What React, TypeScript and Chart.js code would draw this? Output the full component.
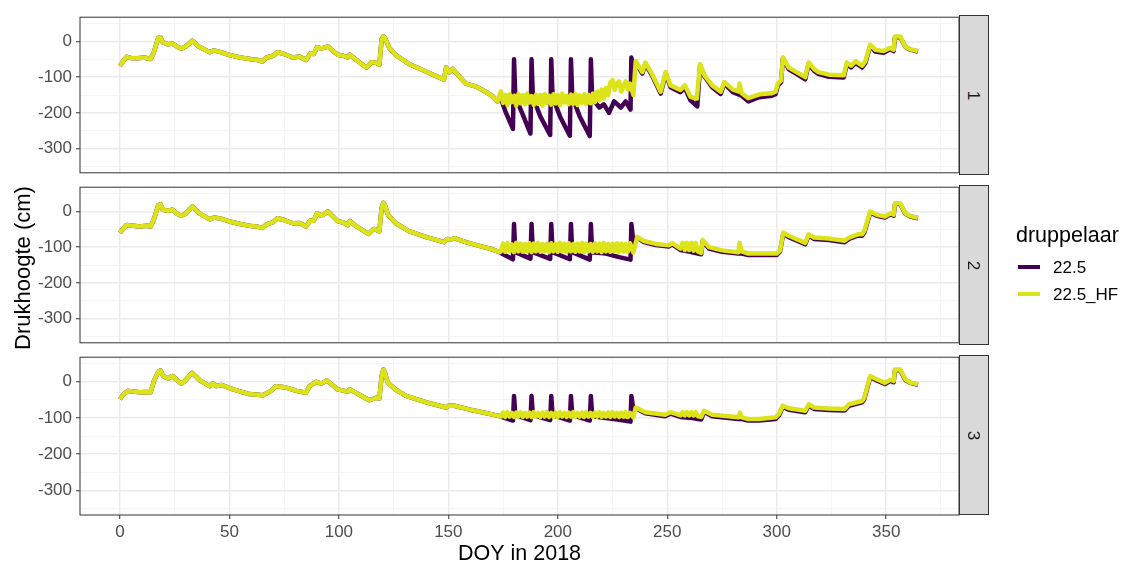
import React, { useEffect, useRef } from 'react';
import { Chart, registerables } from 'chart.js';

Chart.register(...registerables);

const FONT = '"Liberation Sans", Arial, Helvetica, sans-serif';
const PURPLE = '#440154';
const YELLOW = '#DCE319';

const seriesNames = ['22.5', '22.5_HF'];
const legendTitle = 'druppelaar';
const xTitle = 'DOY in 2018';
const yTitle = 'Drukhoogte (cm)';
const panelLabels = ['1', '2', '3'];

const xGridValues = [0, 25, 50, 75, 100, 125, 150, 175, 200, 225, 250, 275, 300, 325, 350, 375];
const xMajorTicks = [0, 50, 100, 150, 200, 250, 300, 350];
const yGridValues = [50, 0, -50, -100, -150, -200, -250, -300, -350];
const yMajorTicks = [0, -100, -200, -300];

// ---------- panel 1 ----------
const p1LeadDoy = [0, 1.5, 3, 5, 8, 11, 14, 15.5, 17.5, 18.5, 19.5, 22, 24, 26, 28, 30, 33, 36, 41, 43, 46, 50, 55, 60, 63, 65, 67, 70, 72, 75, 79, 82, 85, 87, 88.5, 90, 92, 95, 97, 99.5, 102, 104, 105, 108, 112.5, 115, 117, 118.5, 119.5, 120.3, 121, 123, 126, 132, 140, 148, 149, 150.5, 152, 155, 158, 162, 165.6, 170, 172.5];
const p1LeadVal = [-68, -55, -43, -46, -47, -45, -49, -30, 10, 12, -2, -8, -6, -14, -20, -14, 2, -14, -30, -25, -30, -38, -45, -50, -52, -56, -45, -40, -30, -35, -45, -42, -52, -33, -35, -16, -20, -14, -25, -37, -40, -45, -37, -52, -73, -58, -60, -65, 5, 14, 10, -18, -38, -63, -85, -107, -73, -86, -77, -98, -118, -125, -136, -152, -168];

const p1DripMidDoy = [174, 176, 179.5, 180, 180.6, 184, 187.5, 188, 188.6, 192, 196.5, 197, 197.6, 201, 205.5, 206, 206.6, 210, 214.6, 215.1, 215.7, 219, 221, 223.4, 225.7, 228.8, 231, 233.2, 233.6, 234.6];
const p1DripMidVal = [-160, -195, -245, -50, -155, -205, -258, -50, -155, -210, -262, -50, -155, -210, -264, -50, -155, -210, -265, -50, -160, -185, -176, -200, -168, -185, -168, -191, -45, -80];

const hfMidDoy = [174, 175, 176, 177, 178, 179, 180, 181, 182, 183, 184, 185, 186, 187, 188, 189, 190, 191, 192, 193, 194, 195, 196, 197, 198, 199, 200, 201, 202, 203, 204, 205, 206, 207, 208, 209, 210, 211, 212, 213, 214, 215, 216, 217, 218, 219, 220, 221, 222, 223, 224, 225, 226, 227, 228, 229, 230, 231, 232, 233];
const p1HfMidVal = [
  -140, -172, -150, -178, -148, -170, -152, -180, -147, -173, -150, -176,
  -146, -171, -153, -178, -149, -175, -150, -180, -147, -172, -152, -177,
  -148, -174, -150, -179, -146, -171, -152, -176, -149, -175, -147, -178,
  -151, -172, -148, -176, -150, -173, -146, -170, -140, -165, -135, -160,
  -130, -150, -115, -108, -135, -118, -112, -140, -125, -112, -135, -118,
];

const p1HfEndDoy = [234.5, 235.6, 238.6, 240, 243, 247, 249.3, 251.5, 256, 258, 260.6, 263.5, 265, 267, 270.5, 274.4, 276, 280, 282.5, 283, 284, 287, 292, 297.8, 299.4, 300.5, 302, 302.8, 305.5, 309, 313, 314.6, 317, 319, 323.8, 330.6, 332, 334, 336, 339, 340.5, 342.7, 345, 348.8, 351.8, 353.4, 354, 356.4, 358.7, 361, 364.5];
const p1HfEndVal = [-150, -55, -86, -59, -91, -141, -86, -123, -136, -123, -155, -160, -64, -95, -123, -141, -114, -135, -140, -118, -145, -159, -148, -145, -141, -118, -109, -44, -73, -86, -100, -59, -77, -86, -93, -95, -59, -68, -55, -68, -55, -9, -23, -27, -18, -23, 14, 14, -14, -22, -27];

const p1DripEndDoy = [235.6, 238.6, 240, 243, 247, 249.3, 251.5, 256, 258, 260.6, 263.7, 265, 267, 270.5, 274.4, 276, 280, 284, 287, 292, 297.8, 299.4, 300.5, 302, 302.8, 305.5, 309, 313, 314.6, 317, 319, 323.8, 330.6, 332, 334, 336, 339, 340.5, 342.7, 345, 348.8, 351.8, 353.4, 354, 356.4, 358.7, 361, 364.5];
const p1DripEndVal = [-59, -90, -62, -95, -146, -90, -128, -142, -130, -165, -182, -66, -98, -128, -147, -118, -142, -152, -168, -156, -152, -148, -124, -114, -47, -78, -91, -106, -62, -82, -91, -99, -101, -64, -73, -60, -73, -60, -12, -28, -32, -22, -27, 12, 12, -15, -23, -28];

// ---------- panel 2 ----------
const p2LeadDoy = [0, 1.5, 3, 6, 9, 12, 14, 15.5, 17.5, 18.5, 19.5, 22, 24, 26, 28, 30, 33, 36, 41, 43, 46, 50, 55, 60, 63, 65, 67, 70, 72, 75, 79, 82, 85, 87, 88.5, 90, 92, 95, 97, 99.5, 102, 104, 105, 108, 113.5, 116, 118.5, 119.5, 120.3, 121, 122.4, 126, 132, 140, 148, 149.5, 151, 152.7, 158, 165, 170, 173.5];
const p2LeadVal = [-60, -48, -38, -40, -42, -40, -42, -22, 18, 20, 5, 2, 5, -6, -12, -6, 14, -4, -22, -17, -20, -28, -35, -41, -43, -46, -36, -30, -19, -24, -33, -32, -42, -25, -26, -5, -12, 0, -12, -27, -31, -38, -27, -42, -63, -49, -55, 10, 24, 18, -9, -33, -55, -72, -86, -77, -79, -75, -86, -98, -106, -114];

const dripMidDoy = [175, 179.5, 180, 180.6, 187.5, 188, 188.6, 196.5, 197, 197.6, 205.5, 206, 206.6, 214.6, 215.1, 215.7, 222, 228, 233.2, 233.6, 234.6];
const p2DripMidVal = [-120, -134, -35, -114, -132, -35, -114, -133, -35, -114, -134, -35, -114, -135, -35, -114, -118, -128, -135, -35, -90];

const p2HfMidVal = [
  -112, -90, -113, -89, -112, -92, -114, -88, -112, -90, -113, -91,
  -112, -89, -114, -90, -112, -88, -113, -91, -112, -90, -114, -89,
  -112, -91, -113, -88, -112, -90, -114, -89, -112, -91, -113, -90,
  -112, -88, -114, -90, -112, -91, -113, -89, -112, -90, -114, -88,
  -112, -91, -113, -90, -112, -89, -114, -90, -112, -91, -113, -89,
];

const p2HfEndDoy = [234.5, 236.3, 239, 244.7, 250.8, 252.3, 256, 257, 258, 259, 260, 261, 262, 263, 264, 265.5, 266.2, 269, 275, 282.5, 283, 284, 287, 291.8, 300, 301.5, 303, 305.5, 313, 314.6, 317, 323.8, 331, 333, 337, 339, 340, 342.7, 345.7, 349.4, 352, 353.4, 354, 356.4, 358.7, 361, 364.5];
const p2HfEndVal = [-115, -71, -82, -91, -95, -89, -104, -88, -108, -88, -108, -88, -110, -88, -112, -116, -80, -100, -109, -114, -88, -112, -118, -118, -118, -109, -59, -68, -88, -64, -73, -76, -82, -73, -64, -64, -55, 0, -9, -14, -5, -9, 23, 23, -5, -13, -18];

const p2DripEndDoy = [236.3, 239, 244.7, 250.8, 252.3, 256, 260, 265.5, 266.2, 269, 275, 282.5, 284, 287, 291.8, 300, 301.5, 303, 305.5, 313, 314.6, 317, 323.8, 331, 333, 337, 339, 340, 342.7, 345.7, 349.4, 352, 353.4, 354, 356.4, 358.7, 361, 364.5];
const p2DripEndVal = [-73, -85, -94, -98, -92, -108, -112, -120, -82, -104, -113, -118, -118, -122, -122, -122, -112, -62, -72, -92, -67, -77, -80, -86, -77, -68, -68, -59, -3, -12, -17, -8, -12, 21, 21, -6, -14, -19];

// ---------- panel 3 ----------
const p3LeadDoy = [0, 1.5, 3.7, 6, 9, 12, 14, 15.5, 17.5, 18.5, 19.7, 22, 24, 26, 28, 29.6, 33, 36.5, 41, 42.5, 44, 46.5, 51.7, 59, 65.3, 69, 71.4, 76, 80.6, 85, 86.6, 89.7, 92, 94.5, 99.5, 104, 105, 110, 114, 117, 118.5, 119.5, 120.3, 121, 122.4, 126, 130.7, 140, 149, 150, 152.7, 160, 167, 173];
const p3LeadVal = [-48, -35, -25, -27, -29, -28, -29, 2, 28, 31, 16, 9, 16, 5, -5, 2, 25, 4, -12, -5, -12, -9, -21, -34, -37, -25, -12, -16, -25, -30, -12, 0, -5, 4, -21, -27, -21, -38, -51, -44, -46, 15, 34, 25, -3, -22, -39, -57, -71, -66, -66, -77, -86, -94];

const p3DripMidVal = [-98, -107, -39, -92, -106, -39, -92, -106, -39, -92, -107, -39, -92, -107, -39, -95, -100, -105, -110, -39, -80];

const p3HfMidVal = [
  -96, -85, -97, -84, -96, -86, -97, -85, -96, -84, -97, -86,
  -96, -85, -97, -84, -96, -86, -97, -85, -96, -84, -97, -86,
  -96, -85, -97, -84, -96, -86, -97, -85, -96, -84, -97, -86,
  -96, -85, -97, -84, -96, -86, -97, -85, -96, -84, -97, -86,
  -96, -85, -97, -84, -96, -86, -97, -85, -96, -84, -97, -86,
];

const p3HfEndDoy = [234.5, 235.6, 240, 249, 251.5, 256, 257, 258, 259, 260, 261, 262, 263, 264, 265.5, 266.8, 270.5, 282.5, 283.2, 284, 287, 291.8, 299.4, 301, 302.8, 305.5, 313, 314.6, 317, 323.8, 331, 333, 339, 340, 342.7, 345.7, 349.4, 352, 353.4, 354, 356.4, 358.7, 361, 364.5];
const p3HfEndVal = [-98, -71, -84, -91, -84, -93, -84, -93, -84, -93, -84, -93, -84, -95, -97, -80, -91, -98, -85, -98, -103, -103, -98, -89, -66, -73, -80, -62, -71, -74, -75, -62, -53, -44, 16, 7, -3, 6, 2, 34, 34, 7, -2, -7];

const p3DripEndDoy = [235.6, 240, 249, 251.5, 256, 260, 265.5, 266.8, 270.5, 282.5, 284, 287, 291.8, 299.4, 301, 302.8, 305.5, 313, 314.6, 317, 323.8, 331, 333, 339, 340, 342.7, 345.7, 349.4, 352, 353.4, 354, 356.4, 358.7, 361, 364.5];
const p3DripEndVal = [-73, -87, -95, -88, -97, -99, -104, -83, -95, -103, -103, -107, -107, -103, -93, -69, -77, -84, -65, -75, -78, -79, -66, -57, -48, 13, 4, -6, 3, -1, 32, 32, 5, -3, -8];

type Pt = { x: number; y: number };
function pts(doy: number[], val: number[]): Pt[] {
  return doy.map((d, i) => ({ x: d, y: val[i] }));
}

const panels = [
  {
    label: panelLabels[0],
    drip: [...pts(p1LeadDoy, p1LeadVal), ...pts(p1DripMidDoy, p1DripMidVal), ...pts(p1DripEndDoy, p1DripEndVal)],
    hf: [...pts(p1LeadDoy, p1LeadVal), ...pts(hfMidDoy, p1HfMidVal), ...pts(p1HfEndDoy, p1HfEndVal)],
  },
  {
    label: panelLabels[1],
    drip: [...pts(p2LeadDoy, p2LeadVal), ...pts(dripMidDoy, p2DripMidVal), ...pts(p2DripEndDoy, p2DripEndVal)],
    hf: [...pts(p2LeadDoy, p2LeadVal), ...pts(hfMidDoy, p2HfMidVal), ...pts(p2HfEndDoy, p2HfEndVal)],
  },
  {
    label: panelLabels[2],
    drip: [...pts(p3LeadDoy, p3LeadVal), ...pts(dripMidDoy, p3DripMidVal), ...pts(p3DripEndDoy, p3DripEndVal)],
    hf: [...pts(p3LeadDoy, p3LeadVal), ...pts(hfMidDoy, p3HfMidVal), ...pts(p3HfEndDoy, p3HfEndVal)],
  },
];

const panelBorder = {
  id: 'panelBorder',
  afterDraw(chart: any) {
    const { ctx, chartArea: a } = chart;
    ctx.save();
    ctx.strokeStyle = '#333333';
    ctx.lineWidth = 1;
    ctx.strokeRect(a.left, a.top, a.right - a.left, a.bottom - a.top);
    ctx.restore();
  },
};

const PANEL_TOPS = [15, 185, 355];
const PANEL_H = 160;
const PAD = 12;
const X_AXIS_H = 50;
const LINE_W = 4.5;

function PanelChart({ idx, showX }: { idx: number; showX: boolean }) {
  const ref = useRef<HTMLCanvasElement>(null);
  const canvasTop = PANEL_TOPS[idx] - PAD;
  const canvasH = PAD + PANEL_H + (showX ? X_AXIS_H : PAD);
  useEffect(() => {
    const p = panels[idx];
    const majorX = (v: number) => xMajorTicks.includes(v);
    const majorY = (v: number) => yMajorTicks.includes(v);
    const chart = new Chart(ref.current as HTMLCanvasElement, {
      type: 'line',
      data: {
        datasets: [
          { label: seriesNames[1], data: p.hf, borderColor: YELLOW, backgroundColor: YELLOW, borderWidth: LINE_W, pointRadius: 0, order: 0 },
          { label: seriesNames[0], data: p.drip, borderColor: PURPLE, backgroundColor: PURPLE, borderWidth: LINE_W, pointRadius: 0, order: 1 },
        ],
      },
      options: {
        responsive: false,
        animation: false,
        devicePixelRatio: 1,
        layout: { padding: { top: PAD, bottom: showX ? 0 : PAD, left: 0, right: 1124 - 959 } },
        plugins: { legend: { display: false }, tooltip: { enabled: false }, title: { display: false } },
        elements: { line: { tension: 0, borderJoinStyle: 'round', borderCapStyle: 'butt' } },
        scales: {
          x: {
            type: 'linear',
            min: -18.25,
            max: 383.25,
            afterBuildTicks: (a: any) => { a.ticks = xGridValues.map((v) => ({ value: v })); },
            afterFit: (s: any) => { s.height = showX ? X_AXIS_H : 0; },
            border: { display: false },
            grid: {
              color: (c: any) => (c.tick && majorX(c.tick.value) ? '#EBEBEB' : '#F3F3F3'),
              lineWidth: (c: any) => (c.tick && majorX(c.tick.value) ? 1.5 : 0.8),
              drawTicks: showX,
              tickLength: 4,
              tickWidth: 1,
              tickColor: (c: any) => (c.tick && majorX(c.tick.value) ? '#333333' : 'rgba(0,0,0,0)'),
            },
            ticks: {
              display: showX,
              autoSkip: false,
              maxRotation: 0,
              padding: 3,
              color: '#4D4D4D',
              font: { family: FONT, size: 17 },
              callback: (v: any) => (majorX(Number(v)) ? String(v) : ''),
            },
            title: {
              display: showX,
              text: xTitle,
              color: '#000000',
              font: { family: FONT, size: 21.5, lineHeight: 1 },
              padding: { top: 0, bottom: 0 },
            },
          },
          y: {
            type: 'linear',
            min: -368,
            max: 68,
            afterBuildTicks: (a: any) => { a.ticks = yGridValues.map((v) => ({ value: v })); },
            afterFit: (s: any) => { s.width = 80; },
            border: { display: false },
            grid: {
              color: (c: any) => (c.tick && majorY(c.tick.value) ? '#EBEBEB' : '#F3F3F3'),
              lineWidth: (c: any) => (c.tick && majorY(c.tick.value) ? 1.5 : 0.8),
              drawTicks: true,
              tickLength: 4,
              tickWidth: 1,
              tickColor: (c: any) => (c.tick && majorY(c.tick.value) ? '#333333' : 'rgba(0,0,0,0)'),
            },
            ticks: {
              autoSkip: false,
              padding: 4,
              color: '#4D4D4D',
              font: { family: FONT, size: 17 },
              callback: (v: any) => (majorY(Number(v)) ? String(v) : ''),
            },
          },
        },
      },
      plugins: [panelBorder],
    } as any);
    return () => chart.destroy();
  }, []);
  return (
    <canvas
      ref={ref}
      width={1124}
      height={canvasH}
      style={{ position: 'absolute', left: 0, top: canvasTop, width: 1124, height: canvasH }}
    />
  );
}

function Strip({ idx }: { idx: number }) {
  return (
    <div
      style={{
        position: 'absolute', left: 959, top: PANEL_TOPS[idx], width: 30, height: PANEL_H,
        background: '#D9D9D9', border: '1px solid #333333', boxSizing: 'border-box',
        display: 'flex', alignItems: 'center', justifyContent: 'center',
      }}
    >
      <span style={{ transform: 'rotate(90deg)', fontSize: 17, color: '#1A1A1A', lineHeight: 1, display: 'inline-block' }}>
        {panels[idx].label}
      </span>
    </div>
  );
}

export default function App() {
  const legendItems = [
    { name: seriesNames[0], color: PURPLE, y: 267.3 },
    { name: seriesNames[1], color: YELLOW, y: 294 },
  ];
  return (
    <div style={{ position: 'absolute', left: 0, top: 0, width: 1124, height: 565, background: '#FFFFFF', fontFamily: FONT, overflow: 'hidden' }}>
      <PanelChart idx={0} showX={false} />
      <PanelChart idx={1} showX={false} />
      <PanelChart idx={2} showX={true} />
      <Strip idx={0} />
      <Strip idx={1} />
      <Strip idx={2} />
      <div
        style={{
          position: 'absolute', left: 23 - 150, top: 268 - 12, width: 300, height: 24, lineHeight: '24px',
          textAlign: 'center', fontSize: 22, color: '#000', transform: 'rotate(-90deg)', whiteSpace: 'nowrap',
        }}
      >
        {yTitle}
      </div>
      <div style={{ position: 'absolute', left: 1016, top: 243.3 - 0.8465 * 21.5, fontSize: 21.5, lineHeight: 1, color: '#000', whiteSpace: 'nowrap' }}>
        {legendTitle}
      </div>
      {legendItems.map((it) => (
        <React.Fragment key={it.name}>
          <div style={{ position: 'absolute', left: 1018, top: it.y - 2, width: 22, height: 4, background: it.color }} />
          <div style={{ position: 'absolute', left: 1053, top: it.y + 6 - 0.8465 * 17, fontSize: 17, lineHeight: 1, color: '#000', whiteSpace: 'nowrap' }}>
            {it.name}
          </div>
        </React.Fragment>
      ))}
    </div>
  );
}
